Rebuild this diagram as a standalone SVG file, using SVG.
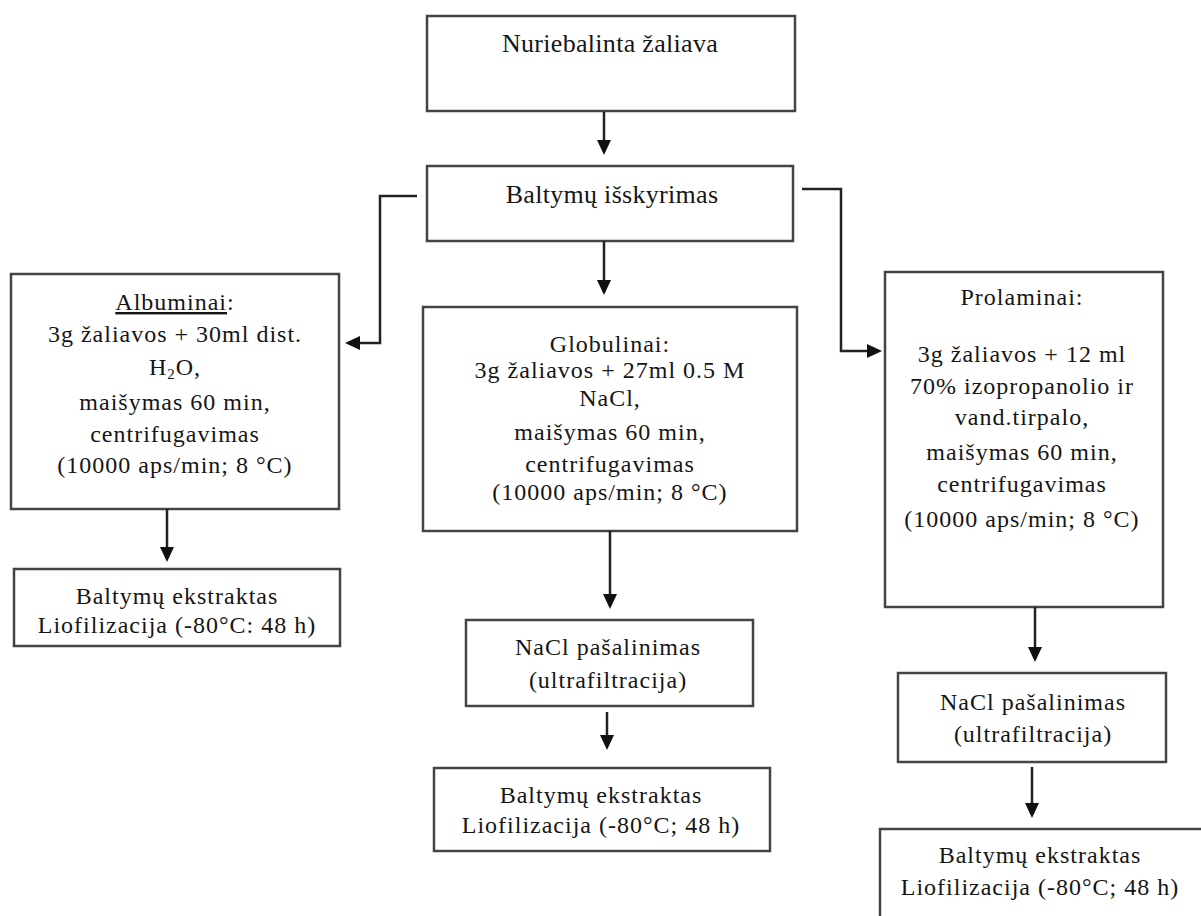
<svg xmlns="http://www.w3.org/2000/svg" width="1201" height="916" viewBox="0 0 1201 916">
<style>
.box{fill:#fff;stroke:#444;stroke-width:2.5}
.t{font-family:"Liberation Serif","Times New Roman",serif;font-size:24px;letter-spacing:1px;fill:#151515;text-anchor:middle}
.tb{font-family:"Liberation Serif","Times New Roman",serif;font-size:26px;letter-spacing:0.3px;fill:#151515;text-anchor:middle}
.c{fill:none;stroke:#222;stroke-width:2.5}
</style>
<defs>
<marker id="ah" markerUnits="userSpaceOnUse" markerWidth="16" markerHeight="16" refX="12" refY="7" orient="auto">
<path d="M0,0 L15,7 L0,14 z" fill="#111"/>
</marker>
</defs>
<rect width="1201" height="916" fill="#fff"/>
<g id="n1"><rect class="box" x="427" y="16" width="368" height="95"/><text class="tb" x="610" y="52">Nuriebalinta žaliava</text></g>
<g id="n2"><rect class="box" x="427" y="166" width="366" height="75"/><text class="tb" x="612" y="203">Baltymų išskyrimas</text></g>
<g id="n3"><rect class="box" x="11" y="274" width="328" height="235"/>
<text class="t" x="175" y="310"><tspan text-decoration="underline">Albuminai</tspan>:</text>
<text class="t" x="175" y="342">3g žaliavos + 30ml dist.</text>
<text class="t" x="175" y="375">H<tspan font-size="15" dy="4">2</tspan><tspan dy="-4">O,</tspan></text>
<text class="t" x="175" y="410">maišymas 60 min,</text>
<text class="t" x="175" y="442">centrifugavimas</text>
<text class="t" x="175" y="473">(10000 aps/min; 8 °C)</text>
</g>
<g id="n4"><rect class="box" x="423" y="307" width="374" height="224"/>
<text class="t" x="610" y="352">Globulinai:</text>
<text class="t" x="610" y="378">3g žaliavos + 27ml 0.5 M</text>
<text class="t" x="610" y="406">NaCl,</text>
<text class="t" x="610" y="440">maišymas 60 min,</text>
<text class="t" x="610" y="472">centrifugavimas</text>
<text class="t" x="610" y="500">(10000 aps/min; 8 °C)</text>
</g>
<g id="n5"><rect class="box" x="885" y="272" width="278" height="335"/>
<text class="t" x="1022" y="305">Prolaminai:</text>
<text class="t" x="1022" y="362">3g žaliavos + 12 ml</text>
<text class="t" x="1022" y="394">70% izopropanolio ir</text>
<text class="t" x="1022" y="425">vand.tirpalo,</text>
<text class="t" x="1022" y="460">maišymas 60 min,</text>
<text class="t" x="1022" y="492">centrifugavimas</text>
<text class="t" x="1022" y="527">(10000 aps/min; 8 °C)</text>
</g>
<g id="n6"><rect class="box" x="14" y="569" width="326" height="77"/>
<text class="t" x="177" y="604">Baltymų ekstraktas</text>
<text class="t" x="177" y="633">Liofilizacija (-80°C: 48 h)</text>
</g>
<g id="n7"><rect class="box" x="466" y="620" width="287" height="86"/>
<text class="t" x="608" y="655">NaCl pašalinimas</text>
<text class="t" x="608" y="688">(ultrafiltracija)</text>
</g>
<g id="n8"><rect class="box" x="434" y="768" width="336" height="83"/>
<text class="t" x="601" y="803">Baltymų ekstraktas</text>
<text class="t" x="601" y="833">Liofilizacija (-80°C; 48 h)</text>
</g>
<g id="n9"><rect class="box" x="898" y="673" width="268" height="89"/>
<text class="t" x="1033" y="710">NaCl pašalinimas</text>
<text class="t" x="1033" y="742">(ultrafiltracija)</text>
</g>
<g id="n10"><rect class="box" x="880" y="829" width="340" height="110"/>
<text class="t" x="1040" y="863">Baltymų ekstraktas</text>
<text class="t" x="1040" y="895">Liofilizacija (-80°C; 48 h)</text>
</g>
<g id="connectors">
<path class="c" d="M604,112 V152" marker-end="url(#ah)"/>
<path class="c" d="M604,241 V292" marker-end="url(#ah)"/>
<path class="c" d="M417,196 H380 V343 H348" marker-end="url(#ah)"/>
<path class="c" d="M802,189 H841 V351 H879" marker-end="url(#ah)"/>
<path class="c" d="M167,509 V559" marker-end="url(#ah)"/>
<path class="c" d="M610,531 V606" marker-end="url(#ah)"/>
<path class="c" d="M607,712 V747" marker-end="url(#ah)"/>
<path class="c" d="M1035,607 V659" marker-end="url(#ah)"/>
<path class="c" d="M1032,767 V815" marker-end="url(#ah)"/>
</g>
</svg>
